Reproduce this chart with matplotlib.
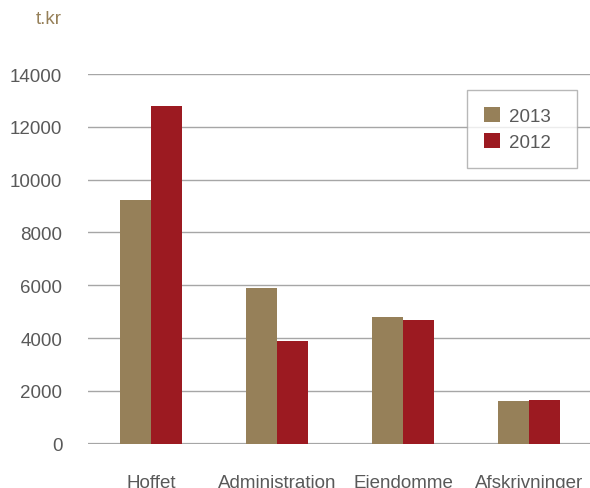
import numpy as np
import matplotlib.pyplot as plt

plt.rcParams['font.family'] = ['Liberation Sans', 'DejaVu Sans']

categories = ["Hoffet", "Administration", "Ejendomme", "Afskrivninger"]
values_2013 = [9230, 5900, 4800, 1620]
values_2012 = [12790, 3890, 4690, 1660]
yticks = [0, 2000, 4000, 6000, 8000, 10000, 12000, 14000]

c2013 = "#968059"
c2012 = "#9c1a21"
grid_c = "#a6a6a6"
text_c = "#595959"

fig = plt.figure(figsize=(5.9, 4.89), dpi=100)
ax = fig.add_axes([88 / 590, 44.3 / 489, 504 / 590, 369.7 / 489])

x = np.arange(len(categories))
w = 0.246
ax.bar(x - w / 2, values_2013, w, color=c2013, label="2013", zorder=3)
ax.bar(x + w / 2, values_2012, w, color=c2012, label="2012", zorder=3)

ax.set_xlim(-0.5, 3.5)
ax.set_ylim(0, 14000)
ax.set_yticks(yticks)
ax.set_yticklabels([str(t) for t in yticks])
ax.set_xticks(x)
ax.set_xticklabels(categories)
for s in ax.spines.values():
    s.set_visible(False)
ax.tick_params(axis='both', length=0, labelsize=13.5, colors=text_c)
ax.tick_params(axis='y', pad=18.5)
ax.tick_params(axis='x', pad=22)
ax.yaxis.grid(True, color=grid_c, linewidth=1.0, zorder=0)
ax.axhline(0, color=grid_c, linewidth=1.6, zorder=2)

# legend box: x 467..577, top at y=91 (pixels)
leg = ax.legend(loc='upper left',
                bbox_to_anchor=((467 - 88) / 504, (444.7 - 91) / 369.7, 110 / 504, 0),
                mode='expand', frameon=True, fancybox=False, fontsize=13.5,
                handlelength=0.85, handleheight=0.85, handletextpad=0.5,
                borderpad=0.9, labelspacing=0.44, borderaxespad=0)
leg.get_frame().set_edgecolor(grid_c)
leg.get_frame().set_linewidth(1.0)
for t in leg.get_texts():
    t.set_color(text_c)

fig.text(62 / 590, 1 - 20 / 489, "t.kr", ha='right', va='center', fontsize=13.5, color=c2013)

fig.savefig("out.png", dpi=100)
